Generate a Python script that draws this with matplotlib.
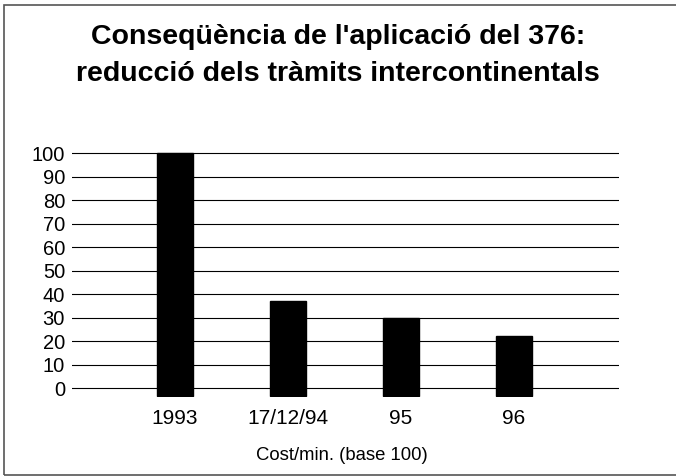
import matplotlib
matplotlib.use("Agg")
import matplotlib.pyplot as plt
from matplotlib.patches import Rectangle

categories = ["1993", "17/12/94", "95", "96"]
values = [100, 37, 30, 22]
yticks = [0, 10, 20, 30, 40, 50, 60, 70, 80, 90, 100]
title_lines = ["Conseqüència de l'aplicació del 376:", "reducció dels tràmits intercontinentals"]
xlabel = "Cost/min. (base 100)"

plt.rcParams['font.family'] = ['Liberation Sans', 'DejaVu Sans']

fig = plt.figure(figsize=(6.76, 4.76), dpi=100)
fig.patch.set_facecolor('white')

# frame around the chart (right edge falls outside the image, as in the scan)
fig.patches.append(Rectangle((3.5/676, 1.5/476), 680/676, 470/476, transform=fig.transFigure,
                             fill=False, edgecolor='#555555', linewidth=1.2))

ax = fig.add_axes([72/676, 0.167, (619-72)/676, 0.514])
x = list(range(len(categories)))
base = -3.4
ax.bar(x, [v - base for v in values], bottom=base, width=0.323, color='black',
       edgecolor='black', zorder=3)
for t in yticks:
    ax.axhline(t, color='black', linewidth=0.8, zorder=1)

ax.set_xlim(-0.912, 3.929)
ax.set_ylim(-3.6, 100.5)
ax.set_yticks(yticks)
ax.set_yticklabels([str(t) for t in yticks], fontsize=14.5)
ax.set_xticks(x)
ax.set_xticklabels(categories, fontsize=15)
ax.tick_params(axis='y', length=0, pad=5)
ax.tick_params(axis='x', length=0, pad=9)
for s in ax.spines.values():
    s.set_visible(False)
ax.set_facecolor('none')

fig.text(0.5, 1 - 43.5/476, title_lines[0], ha='center', va='baseline', fontsize=20.5,
         fontweight='bold')
fig.text(0.5, 1 - 81/476, title_lines[1], ha='center', va='baseline', fontsize=20.5,
         fontweight='bold')
fig.text(342/676, 1 - 460/476, xlabel, ha='center', va='baseline', fontsize=13.3)

fig.savefig("out.png", dpi=100, facecolor='white')
